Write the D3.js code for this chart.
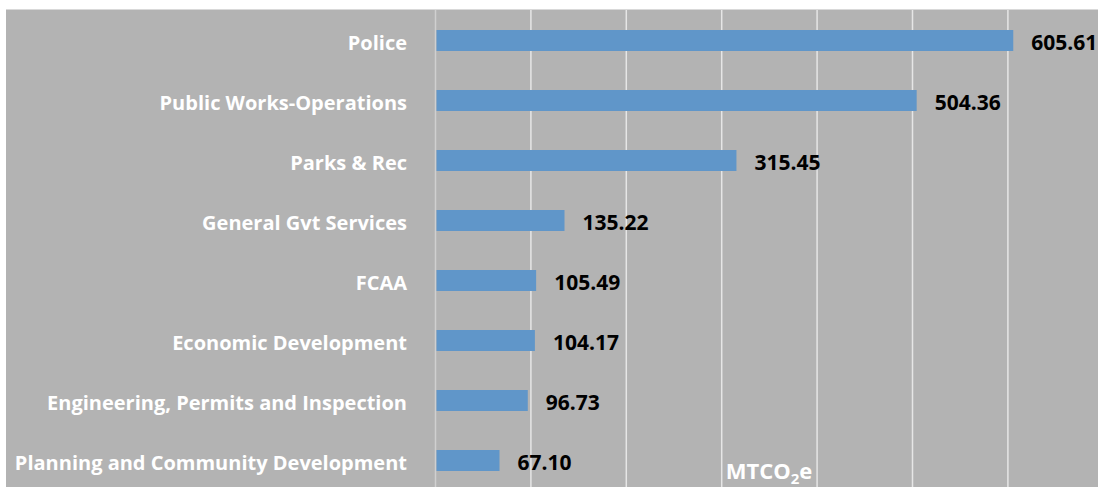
<!DOCTYPE html>
<html><head><meta charset="utf-8">
<script src="https://cdn.jsdelivr.net/npm/d3@7"></script>
<style>body{margin:0;background:#fff;}svg{display:block;}</style>
</head><body><svg id="c" width="1098" height="487"></svg>
<script>
const categories = ["Police","Public Works-Operations","Parks & Rec","General Gvt Services","FCAA","Economic Development","Engineering, Permits and Inspection","Planning and Community Development"];
const values = [605.61,504.36,315.45,135.22,105.49,104.17,96.73,67.10];
const xTicks = [0,100,200,300,400,500,600,700];

const svg = d3.select("#c");
const W = 1098, H = 487;
const panel = {x0:6, y0:10};
svg.append("rect").attr("x",panel.x0).attr("y",panel.y0-1).attr("width",W-panel.x0).attr("height",1).attr("fill","#d9d9d9");
svg.append("rect").attr("x",panel.x0).attr("y",panel.y0).attr("width",W-panel.x0).attr("height",H-panel.y0).attr("fill","#b3b3b3");

const x = d3.scaleLinear().domain([0,700]).range([435.5, 435.5+95.4*7]);
const y = d3.scaleBand().domain(categories).range([10.5,490.5]).paddingInner(0.65).paddingOuter(0.325);

const grid = svg.append("g");
grid.selectAll("line").data(xTicks).join("line")
  .attr("x1",d=>x(d)).attr("x2",d=>x(d)).attr("y1",panel.y0).attr("y2",H)
  .attr("stroke",d=>d===0?"#d0d0d0":"#e6e6e6").attr("stroke-width",1.5);

svg.append("g").selectAll("rect").data(values).join("rect")
  .attr("x",x(0)+1).attr("y",(d,i)=>y(categories[i]))
  .attr("width",d=>x(d)-x(0)-1).attr("height",y.bandwidth())
  .attr("fill","#6096c9");

const font = "'Open Sans', sans-serif";
svg.append("g").selectAll("text").data(categories).join("text")
  .attr("x",407).attr("y",d=>y(d)+y.bandwidth()/2).attr("dy","0.45em")
  .attr("text-anchor","end").attr("fill","#ffffff")
  .attr("font-family",font).attr("font-weight","bold").attr("font-size",20)
  .text(d=>d);

svg.append("g").selectAll("text").data(values).join("text")
  .attr("x",d=>x(d)+18).attr("y",(d,i)=>y(categories[i])+y.bandwidth()/2).attr("dy","0.45em")
  .attr("fill","#000").attr("font-family",font).attr("font-weight","bold").attr("font-size",21)
  .text(d=>d.toFixed(2));

const t = svg.append("text").attr("x",769).attr("y",479).attr("text-anchor","middle")
  .attr("fill","#fff").attr("font-family",font).attr("font-weight","bold").attr("font-size",22);
t.append("tspan").text("MTCO");
t.append("tspan").attr("font-size",15).attr("dy",5).text("2");
t.append("tspan").attr("dy",-5).text("e");
</script></body></html>
